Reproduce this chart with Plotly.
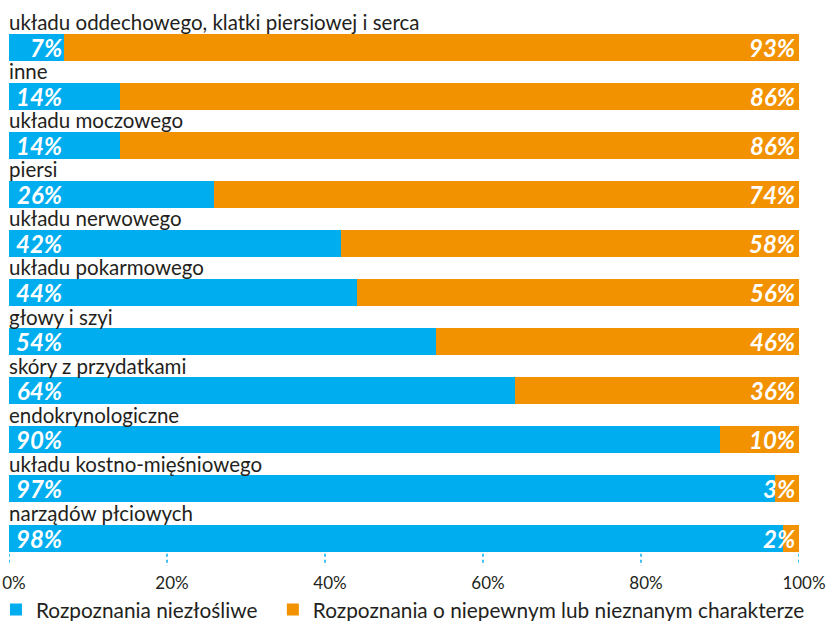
import plotly.graph_objects as go

categories = [
    "układu oddechowego, klatki piersiowej i serca",
    "inne",
    "układu moczowego",
    "piersi",
    "układu nerwowego",
    "układu pokarmowego",
    "głowy i szyi",
    "skóry z przydatkami",
    "endokrynologiczne",
    "układu kostno-mięśniowego",
    "narządów płciowych",
]
benign = [7, 14, 14, 26, 42, 44, 54, 64, 90, 97, 98]
uncertain = [93, 86, 86, 74, 58, 56, 46, 36, 10, 3, 2]
series_names = ["Rozpoznania niezłośliwe", "Rozpoznania o niepewnym lub nieznanym charakterze"]
tick_vals = [0, 20, 40, 60, 80, 100]
tick_text = ["0%", "20%", "40%", "60%", "80%", "100%"]

BLUE = "#00AEEF"
ORANGE = "#F39200"
TXT = "#231F20"

n = len(categories)
ypos = [n - 1 - i for i in range(n)]

fig = go.Figure()
fig.add_trace(go.Bar(
    y=ypos, x=benign, orientation="h", name=series_names[0], legend="legend",
    marker=dict(color=BLUE, line=dict(width=0)), width=0.55, hoverinfo="skip",
))
fig.add_trace(go.Bar(
    y=ypos, x=uncertain, orientation="h", name=series_names[1], legend="legend2",
    marker=dict(color=ORANGE, line=dict(width=0)), width=0.55, hoverinfo="skip",
))

num_font = dict(family="Lato", size=24, color="white", weight=700, style="italic")
for i, cat in enumerate(categories):
    y = ypos[i]
    fig.add_annotation(x=0, y=y + 0.51, xref="x", yref="y", text=cat, showarrow=False,
                       xanchor="left", yanchor="middle", xshift=-2,
                       font=dict(family="Lato", size=20.5, color=TXT))
    fig.add_annotation(x=0, y=y, xref="x", yref="y", text=f"{benign[i]}%", showarrow=False,
                       xanchor="right", yanchor="middle", xshift=55, font=num_font)
    fig.add_annotation(x=100, y=y, xref="x", yref="y", text=f"{uncertain[i]}%", showarrow=False,
                       xanchor="right", yanchor="middle", xshift=-2, font=num_font)

for t in tick_vals:
    fig.add_shape(type="line", x0=t, x1=t, xref="x", yref="paper", y0=-0.003, y1=-0.026,
                  line=dict(color=BLUE, width=1.5, dash="dot"))

legend_font = dict(family="Lato", size=20.8, color=TXT)
fig.update_layout(
    width=827, height=621,
    margin=dict(l=9, r=28, t=10, b=69, autoexpand=False),
    barmode="stack",
    bargap=0,
    plot_bgcolor="white", paper_bgcolor="white",
    showlegend=True,
    legend=dict(orientation="h", x=-0.0165, y=-0.107, xanchor="left", yanchor="middle",
                font=legend_font, bgcolor="rgba(0,0,0,0)"),
    legend2=dict(orientation="h", x=0.334, y=-0.107, xanchor="left", yanchor="middle",
                 font=legend_font, bgcolor="rgba(0,0,0,0)"),
    xaxis=dict(range=[0, 100], tickvals=tick_vals, ticktext=tick_text, showgrid=False,
               zeroline=False, showline=False, ticks="outside", ticklen=16, automargin=False,
               tickcolor="rgba(0,0,0,0)", tickfont=dict(family="Lato", size=17, color=TXT),
               ticklabeloverflow="allow", ticklabelshift=5, fixedrange=True),
    yaxis=dict(range=[-0.285, 10.754], showticklabels=False, showgrid=False, zeroline=False,
               showline=False, fixedrange=True, automargin=False),
)

fig.write_html("out.html", config={"displayModeBar": False},
               post_script="document.body.style.margin='0';")
